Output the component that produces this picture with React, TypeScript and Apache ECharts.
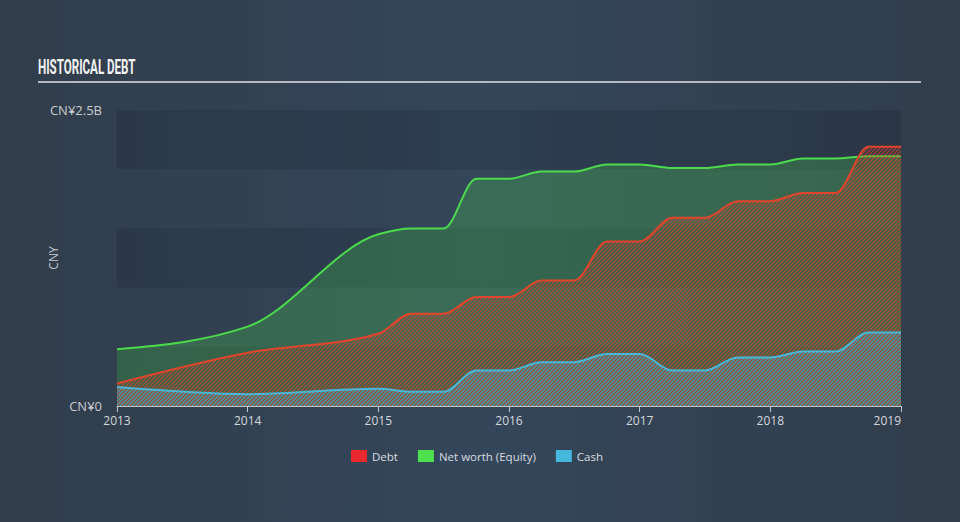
import React, { useEffect, useRef } from 'react';
import * as echarts from 'echarts';

// Decimal-year positions of the reported points
const years = [2013, 2014, 2015, 2015.25, 2015.5, 2015.75, 2016, 2016.25, 2016.5, 2016.75, 2017, 2017.25, 2017.5, 2017.75, 2018, 2018.25, 2018.5, 2018.75, 2019];
// Values in CN¥ billions
const debt = [0.19, 0.45, 0.61, 0.78, 0.78, 0.92, 0.92, 1.06, 1.06, 1.39, 1.39, 1.59, 1.59, 1.73, 1.73, 1.8, 1.8, 2.19, 2.19];
const netWorth = [0.48, 0.67, 1.45, 1.5, 1.5, 1.92, 1.92, 1.98, 1.98, 2.04, 2.04, 2.01, 2.01, 2.04, 2.04, 2.09, 2.09, 2.11, 2.11];
const cash = [0.16, 0.1, 0.145, 0.12, 0.12, 0.3, 0.3, 0.37, 0.37, 0.44, 0.44, 0.3, 0.3, 0.41, 0.41, 0.46, 0.46, 0.62, 0.62];

const seriesNames = ['Debt', 'Net worth (Equity)', 'Cash'];
const legendColors = ['#e8282a', '#4fe04f', '#45b6dc'];
const yLabelValues = [0, 2.5];
const yLabelTexts = ['CN¥0', 'CN¥2.5B'];
const titleText = 'HISTORICAL DEBT';
const yAxisName = 'CNY';

function hatch(color: string, width: number, offset: number) {
  const s = 4;
  const c = document.createElement('canvas');
  c.width = s;
  c.height = s;
  const ctx = c.getContext('2d')!;
  ctx.strokeStyle = color;
  ctx.lineWidth = width;
  ctx.beginPath();
  for (let k = -2; k <= 2; k++) {
    const x0 = k * s + offset;
    ctx.moveTo(x0 - 1, s + 1);
    ctx.lineTo(x0 + s + 1, -1);
  }
  ctx.stroke();
  return { image: c, repeat: 'repeat', imageWidth: s, imageHeight: s } as any;
}

// Monotone cubic (Fritsch-Carlson, as in d3.curveMonotoneX) through pixel points
function monotoneD(pts: number[][]) {
  const n = pts.length;
  const sl: number[] = [];
  for (let i = 0; i < n - 1; i++) {
    const h = pts[i + 1][0] - pts[i][0];
    sl.push(h ? (pts[i + 1][1] - pts[i][1]) / h : 0);
  }
  const t = new Array(n).fill(0);
  for (let i = 1; i < n - 1; i++) {
    const h0 = pts[i][0] - pts[i - 1][0];
    const h1 = pts[i + 1][0] - pts[i][0];
    const s0 = sl[i - 1];
    const s1 = sl[i];
    const p = (s0 * h1 + s1 * h0) / (h0 + h1);
    t[i] = (Math.sign(s0) + Math.sign(s1)) * Math.min(Math.abs(s0), Math.abs(s1), 0.5 * Math.abs(p)) || 0;
  }
  t[0] = (3 * sl[0] - t[1]) / 2;
  t[n - 1] = (3 * sl[n - 2] - t[n - 2]) / 2;
  let d = `M${pts[0][0]},${pts[0][1]}`;
  for (let i = 0; i < n - 1; i++) {
    const [x0, y0] = pts[i];
    const [x1, y1] = pts[i + 1];
    const dx = (x1 - x0) / 3;
    d += `C${x0 + dx},${y0 + dx * t[i]},${x1 - dx},${y1 - dx * t[i + 1]},${x1},${y1}`;
  }
  return d;
}

function makeSeries(name: string, arr: number[], color: string, lineColor: string, fill: any, z: number) {
  return {
    name,
    type: 'custom',
    z,
    coordinateSystem: 'cartesian2d',
    encode: { x: 0, y: 1 },
    itemStyle: { color },
    data: years.map((y, i) => [y, arr[i]]),
    renderItem: (params: any, api: any) => {
      if (params.dataIndex !== 0) return null;
      const pts = years.map((y, i) => api.coord([y, arr[i]]));
      const base = api.coord([years[0], 0])[1];
      const lineD = monotoneD(pts);
      const last = pts[pts.length - 1];
      const areaD = lineD + `L${last[0]},${base}L${pts[0][0]},${base}Z`;
      return {
        type: 'group',
        children: [
          { type: 'path', shape: { pathData: areaD }, style: { fill, stroke: null } },
          { type: 'path', z2: 5, shape: { pathData: lineD }, style: { fill: null, stroke: lineColor, lineWidth: 2 } },
        ],
      };
    },
  };
}

export default function App() {
  const ref = useRef<HTMLDivElement>(null);
  useEffect(() => {
    if (!ref.current) return;
    const chart = echarts.init(ref.current, null, { renderer: 'svg' });
    const font = '"Open Sans", Lato, sans-serif';
    chart.setOption({
      animation: false,
      backgroundColor: 'transparent',
      grid: { left: 117, right: 59, top: 110, bottom: 116, containLabel: false },
      graphic: [
        {
          type: 'text',
          x: 38,
          y: 67,
          scaleX: 0.58,
          style: {
            text: titleText,
            x: 0,
            y: 0,
            fill: '#f2f2f2',
            font: 'bold 20px Roboto, sans-serif',
            verticalAlign: 'middle',
          },
        },
        {
          type: 'line',
          shape: { x1: 38, y1: 82, x2: 921, y2: 82 },
          style: { stroke: '#b5bac0', lineWidth: 2 },
        },
      ],
      legend: {
        left: 346,
        top: 445,
        icon: 'rect',
        itemWidth: 16,
        itemHeight: 12,
        itemGap: 20,
        textStyle: { color: '#d8dce0', fontSize: 11.5, fontFamily: font },
        data: seriesNames.map((n, i) => ({ name: n, itemStyle: { color: legendColors[i] } })),
      },
      xAxis: {
        type: 'value',
        min: 2013,
        max: 2019,
        interval: 1,
        axisLine: { lineStyle: { color: '#c2c7cc', width: 1 } },
        axisTick: { show: true, length: 6, lineStyle: { color: '#c2c7cc' } },
        axisLabel: {
          color: '#d4d8dc',
          fontSize: 12,
          fontFamily: font,
          margin: 8,
          alignMaxLabel: 'right',
          formatter: (v: number) => String(Math.round(v)),
        },
        splitLine: { show: false },
      },
      yAxis: {
        type: 'value',
        min: 0,
        max: 2.5,
        interval: 0.5,
        name: yAxisName,
        nameLocation: 'middle',
        nameGap: 58,
        nameMoveOverlap: false,
        nameTextStyle: { color: '#c8ccd0', fontSize: 12, fontFamily: font },
        axisLine: { show: false },
        axisTick: { show: false },
        axisLabel: {
          color: '#c8ccd0',
          fontSize: 13,
          fontFamily: font,
          margin: 15,
          formatter: (v: number) => {
            const idx = yLabelValues.findIndex((tv) => Math.abs(tv - v) < 1e-9);
            return idx >= 0 ? yLabelTexts[idx] : '';
          },
        },
        splitLine: { show: false },
        splitArea: { show: true, areaStyle: { color: ['rgba(22,32,46,0.2)', 'rgba(0,0,0,0)'] } },
      },
      series: [
        makeSeries(seriesNames[1], netWorth, legendColors[1], '#4cdb4c', 'rgba(76,217,76,0.26)', 2),
        makeSeries(seriesNames[0], debt, legendColors[0], '#e2452c', hatch('rgba(214,70,44,0.68)', 1.4, 0), 3),
        makeSeries(seriesNames[2], cash, legendColors[2], '#4bb6d8', hatch('rgba(80,176,208,0.72)', 1.4, 2), 4),
      ],
    });
    return () => chart.dispose();
  }, []);
  return (
    <div
      style={{
        position: 'fixed',
        left: 0,
        top: 0,
        width: 960,
        height: 522,
        background: 'linear-gradient(90deg, #313d4b 0%, #34465a 50%, #313d4b 100%)',
      }}
    >
      <div ref={ref} style={{ width: 960, height: 522 }} />
    </div>
  );
}
